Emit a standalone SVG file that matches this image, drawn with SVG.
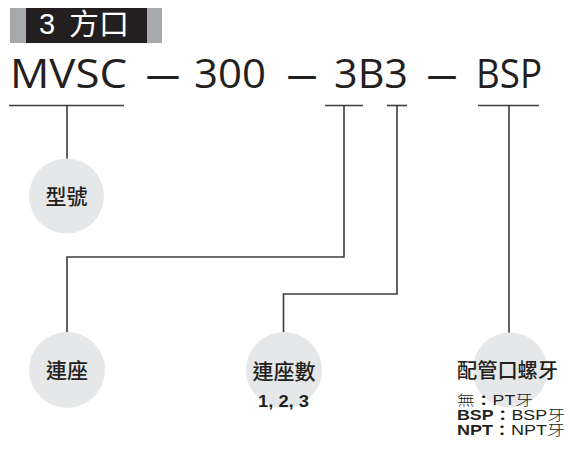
<svg xmlns="http://www.w3.org/2000/svg" width="570" height="449" viewBox="0 0 570 449">
<style>
.big{font-family:"Open Sans","Liberation Sans",sans-serif;font-size:41px;fill:#231f20}
.cjk{font-family:"Noto Sans CJK TC","Noto Sans CJK SC",sans-serif;fill:#231f20;text-anchor:middle;font-weight:500}
.circ{fill:#e6e7e8}
.ln{stroke:#3d3d3d;stroke-width:1.6;fill:none}
.small{font-family:"Liberation Sans","Noto Sans CJK TC",sans-serif;font-size:14px;fill:#231f20}
.k{font-family:"Noto Sans CJK TC",serif;font-weight:300}
</style>
<rect width="570" height="449" fill="#fff"/>
<g id="header">
<rect x="10" y="8" width="152" height="35" fill="#a7a9ac"/>
<rect x="26" y="8" width="121" height="35" fill="#231f20"/>
<text x="39" y="34" font-family="Liberation Sans,Noto Sans CJK TC,sans-serif" font-size="29" fill="#fff">3</text>
<text x="69" y="35" font-family="Noto Sans CJK TC,sans-serif" font-size="29" fill="#fff" textLength="60" lengthAdjust="spacingAndGlyphs">方口</text>
</g>
<g id="model">
<text class="big" x="10" y="88" textLength="117" lengthAdjust="spacingAndGlyphs">MVSC</text>
<text class="big" x="146" y="88" textLength="34" lengthAdjust="spacingAndGlyphs">—</text>
<text class="big" x="194" y="88" textLength="72" lengthAdjust="spacingAndGlyphs">300</text>
<text class="big" x="287" y="88" textLength="30" lengthAdjust="spacingAndGlyphs">—</text>
<text class="big" x="334" y="88" textLength="74" lengthAdjust="spacingAndGlyphs">3B3</text>
<text class="big" x="427" y="88" textLength="30" lengthAdjust="spacingAndGlyphs">—</text>
<text class="big" x="476" y="88" textLength="66" lengthAdjust="spacingAndGlyphs">BSP</text>
</g>
<g id="connectors">
<line class="ln" x1="9" y1="105.5" x2="124" y2="105.5"/>
<line class="ln" x1="67" y1="105.5" x2="67" y2="159"/>
<line class="ln" x1="325" y1="105.5" x2="363" y2="105.5"/>
<polyline class="ln" points="344,105.5 344,257 67,257 67,333"/>
<line class="ln" x1="387" y1="105.5" x2="407" y2="105.5"/>
<polyline class="ln" points="397,105.5 397,294 283.5,294 283.5,333"/>
<line class="ln" x1="478" y1="105.5" x2="539" y2="105.5"/>
<line class="ln" x1="509" y1="105.5" x2="509" y2="333"/>
</g>
<g id="n-model">
<circle class="circ" cx="66.5" cy="196" r="37.5"/>
<text class="cjk" x="66.5" y="203.5" font-size="21">型號</text>
</g>
<g id="n-base">
<circle class="circ" cx="67" cy="370" r="38"/>
<text class="cjk" x="67" y="377.5" font-size="21">連座</text>
</g>
<g id="n-count">
<circle class="circ" cx="284" cy="370" r="38"/>
<text class="cjk" x="284" y="379" font-size="21">連座數</text>
<text x="258" y="407" font-family="Liberation Sans,sans-serif" font-size="16" font-weight="bold" fill="#231f20" textLength="51" lengthAdjust="spacingAndGlyphs">1, 2, 3</text>
</g>
<g id="n-thread">
<circle class="circ" cx="510" cy="370" r="37.5"/>
<text x="457" y="378" font-family="Noto Sans CJK TC,sans-serif" font-size="20" font-weight="500" fill="#231f20" textLength="101" lengthAdjust="spacingAndGlyphs">配管口螺牙</text>
<text class="small" x="457" y="405" textLength="76" lengthAdjust="spacingAndGlyphs"><tspan class="k">無</tspan><tspan font-weight="bold">：</tspan>PT<tspan class="k">牙</tspan></text>
<text class="small" x="457" y="420" textLength="108" lengthAdjust="spacingAndGlyphs"><tspan font-weight="bold">BSP：</tspan>BSP<tspan class="k">牙</tspan></text>
<text class="small" x="457" y="435" textLength="108" lengthAdjust="spacingAndGlyphs"><tspan font-weight="bold">NPT：</tspan>NPT<tspan class="k">牙</tspan></text>
</g>
</svg>
